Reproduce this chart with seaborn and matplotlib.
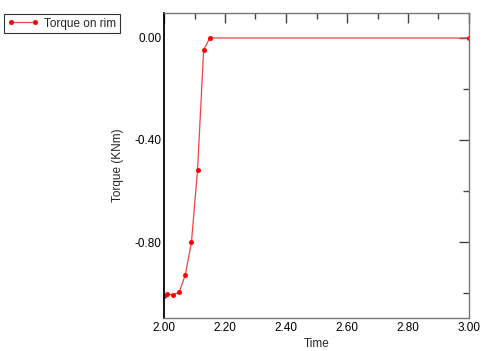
import matplotlib
matplotlib.use("Agg")
import matplotlib.pyplot as plt
import seaborn as sns
import pandas as pd
from matplotlib.ticker import MultipleLocator, FormatStrFormatter
from matplotlib.lines import Line2D

time = [2.00, 2.01, 2.03, 2.05, 2.07, 2.09, 2.11, 2.13, 2.15, 3.00]
torque = [-1.011, -1.005, -1.007, -0.997, -0.928, -0.801, -0.518, -0.047, 0.0, 0.0]
series_name = "Torque on rim"

df = pd.DataFrame({"Time": time, "Torque": torque, "series": series_name})

sns.set_theme(style="white")
plt.rcParams["font.family"] = ["Liberation Sans", "DejaVu Sans"]
plt.rcParams["font.size"] = 8.5

fig = plt.figure(figsize=(4.92, 3.51), dpi=100)
ax = fig.add_axes([164/492, 1-318/351, (469-164)/492, (318-13)/351])

sns.lineplot(data=df, x="Time", y="Torque", hue="series", palette=["#ff0000"],
             marker="o", markersize=3.6, markeredgewidth=0, linewidth=0.9,
             ax=ax, legend=False)
for ln in ax.lines:
    ln.set_color("#ee4444")
    ln.set_markerfacecolor("#ff0000")
    ln.set_markeredgecolor("#ff0000")

ax.set_xlim(2.0, 3.0)
ax.set_ylim(-1.098, 0.098)
ax.xaxis.set_major_locator(MultipleLocator(0.2))
ax.xaxis.set_minor_locator(MultipleLocator(0.1))
ax.yaxis.set_major_locator(MultipleLocator(0.4))
ax.yaxis.set_minor_locator(MultipleLocator(0.2))
ax.xaxis.set_major_formatter(FormatStrFormatter("%.2f"))
ax.yaxis.set_major_formatter(FormatStrFormatter("%.2f"))

ax.tick_params(axis="both", which="both", direction="in", top=True, right=True,
               labelsize=8.5, colors="#444444", labelcolor="black")
ax.tick_params(axis="x", which="both", pad=3)
ax.tick_params(axis="y", which="both", pad=2)
ax.tick_params(which="major", length=7, width=1)
ax.tick_params(which="minor", length=4, width=1)

for side in ["top", "right", "bottom"]:
    ax.spines[side].set_color("#777777")
    ax.spines[side].set_linewidth(1)
ax.spines["left"].set_color("black")
ax.spines["left"].set_linewidth(1.3)

ax.set_xlabel("Time", fontsize=8.5, labelpad=3)
ax.set_ylabel("Torque (KNm)", fontsize=8.5, labelpad=7)

h = Line2D([], [], color="#ee4444", linewidth=0.9, marker="o", markersize=3.6,
           markerfacecolor="#ff0000", markeredgewidth=0)
leg = fig.legend([h], [series_name], loc="upper left",
                 bbox_to_anchor=(4/492, 1-14/351), fontsize=8.5, frameon=True,
                 fancybox=False, borderpad=0.3, handlelength=2.6, numpoints=2,
                 handletextpad=0.5, borderaxespad=0)
leg.get_frame().set_edgecolor("black")
leg.get_frame().set_linewidth(0.8)

fig.savefig("out.png", dpi=100)
